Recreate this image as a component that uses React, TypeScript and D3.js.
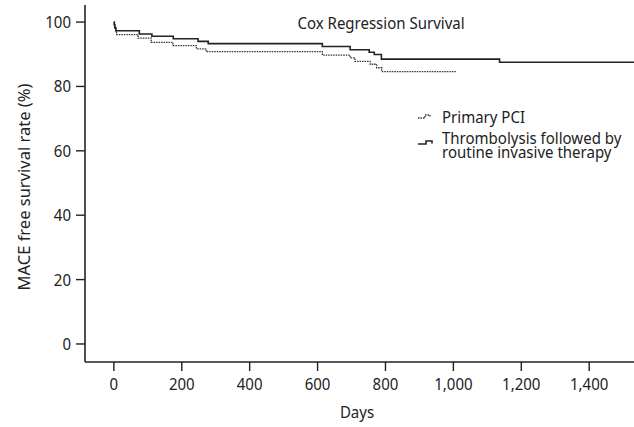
import React from "react";
import * as d3 from "d3";

const W = 634;
const H = 427;

const xTicks = [0, 200, 400, 600, 800, 1000, 1200, 1400];
const yTicks = [0, 20, 40, 60, 80, 100];

// Thrombolysis followed by routine invasive therapy (solid)
const thrombDays = [0, 1, 3, 6, 75, 112, 175, 248, 278, 614, 696, 752, 767, 788, 1136, 1532];
const thrombSurv = [100, 99.2, 98.2, 97.3, 96.3, 95.6, 94.8, 94.0, 93.3, 92.4, 91.4, 90.6, 89.9, 88.5, 87.5, 87.5];

// Primary PCI (dotted)
const pciDays = [0, 2, 5, 8, 71, 110, 174, 243, 272, 614, 696, 710, 755, 774, 789, 1008];
const pciSurv = [100, 98.5, 97.3, 96.1, 95.0, 93.7, 92.7, 91.7, 90.8, 89.7, 88.9, 87.8, 86.9, 85.8, 84.6, 84.6];

const FONT = "'Noto Sans', sans-serif";
const FS = 16.5;
const SX = 0.91;
const TXT = "#222";

function T({
  x,
  y,
  anchor = "start",
  sx = SX,
  children,
}: {
  x: number;
  y: number;
  anchor?: string;
  sx?: number;
  children: React.ReactNode;
}) {
  return (
    <text
      transform={`translate(${x},${y}) scale(${sx},1)`}
      textAnchor={anchor}
      fontSize={FS}
      fill={TXT}
    >
      {children}
    </text>
  );
}

export default function App() {
  const x = d3.scaleLinear().domain([-85, 1532]).range([85, 634]);
  const y = d3.scaleLinear().domain([-5.6, 105.3]).range([362, 5]);

  const line = d3
    .line<[number, number]>()
    .x((d) => x(d[0]))
    .y((d) => y(d[1]))
    .curve(d3.curveStepAfter);

  const thromb = thrombDays.map((d, i) => [d, thrombSurv[i]] as [number, number]);
  const pci = pciDays.map((d, i) => [d, pciSurv[i]] as [number, number]);

  const axisColor = "#222";

  return (
    <svg
      width={W}
      height={H}
      style={{ position: "absolute", left: 0, top: 0, background: "#fff" }}
      fontFamily={FONT}
    >
      {/* axes */}
      <line x1={85} x2={634} y1={362} y2={362} stroke={axisColor} strokeWidth={1.6} />
      <line x1={85} x2={85} y1={5} y2={362} stroke={axisColor} strokeWidth={1.6} />
      {xTicks.map((t) => (
        <g key={"x" + t}>
          <line x1={x(t)} x2={x(t)} y1={362} y2={371} stroke={axisColor} strokeWidth={1.4} />
          <T x={x(t)} y={390} anchor="middle">
            {d3.format(",")(t)}
          </T>
        </g>
      ))}
      {yTicks.map((t) => (
        <g key={"y" + t}>
          <line x1={76} x2={85} y1={y(t)} y2={y(t)} stroke={axisColor} strokeWidth={1.4} />
          <T x={71} y={y(t) + 6} anchor="end">
            {t}
          </T>
        </g>
      ))}
      <T x={357} y={418} anchor="middle">
        Days
      </T>
      <text
        transform={`translate(30,187) rotate(-90)`}
        textAnchor="middle"
        fontSize={FS}
        fill={TXT}
      >
        MACE free survival rate (%)
      </text>

      {/* title */}
      <T x={381} y={29} anchor="middle">
        Cox Regression Survival
      </T>

      {/* curves */}
      <path d={line(pci) || ""} fill="none" stroke="#333" strokeWidth={1.3} strokeDasharray="1.5,1" />
      <path d={line(thromb) || ""} fill="none" stroke="#222" strokeWidth={1.6} />

      {/* legend */}
      <path d="M418,118 H425 V115 H430 V117.5" fill="none" stroke="#333" strokeWidth={1.3} strokeDasharray="1.5,1" />
      <T x={442} y={123}>Primary PCI</T>
      <path d="M418,144 H426 V141 H432 V143.5" fill="none" stroke="#222" strokeWidth={1.6} />
      <text
        transform={`translate(442,144) scale(${SX},1)`}
        fontSize={FS}
        fill={TXT}
      >
        <tspan x={0} dy={0}>Thrombolysis followed by</tspan>
        <tspan x={0} dy={14}>routine invasive therapy</tspan>
      </text>
    </svg>
  );
}
